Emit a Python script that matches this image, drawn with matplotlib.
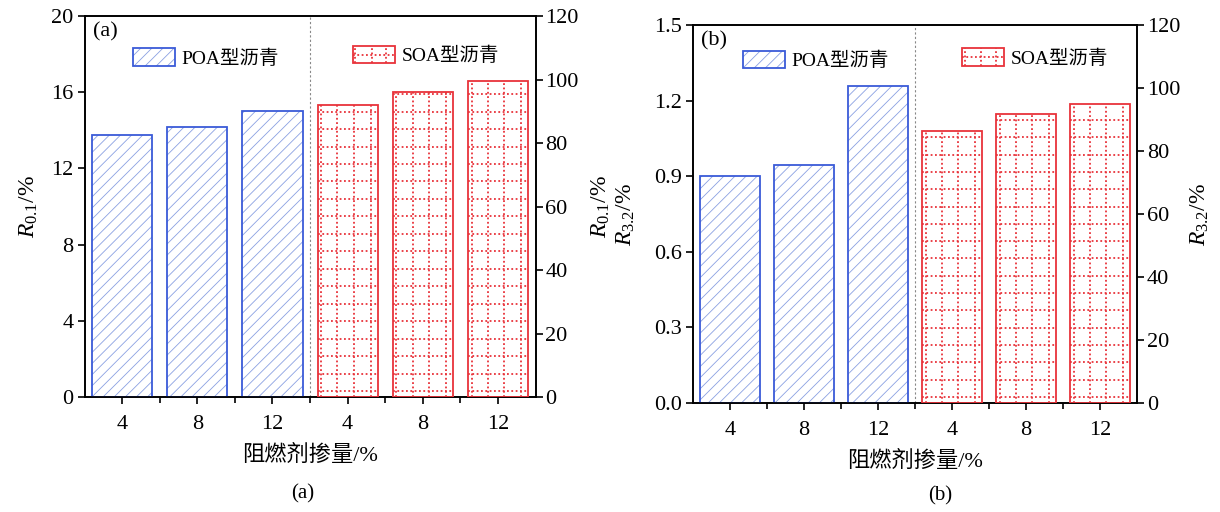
import matplotlib
matplotlib.use('Agg')
import matplotlib.pyplot as plt
from matplotlib.patches import Rectangle
from matplotlib.lines import Line2D
from matplotlib.legend_handler import HandlerBase

plt.rcParams['font.family'] = ['Liberation Serif', 'Noto Sans CJK SC']
plt.rcParams['mathtext.fontset'] = 'custom'
plt.rcParams['mathtext.rm'] = 'Liberation Serif'
plt.rcParams['mathtext.it'] = 'Liberation Serif:italic'
plt.rcParams['hatch.linewidth'] = 0.6
plt.rcParams['axes.linewidth'] = 1.2

# data
doses = ['4', '8', '12', '4', '8', '12']
poa_r01 = [13.73, 14.18, 15.0]
soa_r01 = [92.0, 96.0, 99.6]
poa_r32 = [0.90, 0.945, 1.258]
soa_r32 = [86.5, 91.8, 95.1]

BLUE = '#3a5bd8'
BLUE_HATCH = '#8aa0e2'
RED = '#e8333a'
DOT = (0, (1.0, 1.4))


class HatchKey:
    pass


class GridKey:
    pass


class HatchHandler(HandlerBase):
    def create_artists(self, legend, orig, xd, yd, w, h, fs, trans):
        r1 = Rectangle((-xd, -yd), w, h, facecolor='white', edgecolor=BLUE_HATCH,
                       hatch='///', lw=0, transform=trans)
        r2 = Rectangle((-xd, -yd), w, h, fill=False, edgecolor=BLUE, lw=1.3,
                       transform=trans)
        return [r1, r2]


class GridHandler(HandlerBase):
    def create_artists(self, legend, orig, xd, yd, w, h, fs, trans):
        x0, y0 = -xd, -yd
        arts = [Rectangle((x0, y0), w, h, facecolor='white', edgecolor=RED, lw=1.3,
                          transform=trans)]
        for f in (0.06, 0.45, 0.8):
            arts.append(Line2D([x0 + f * w] * 2, [y0, y0 + h], ls=DOT, color=RED,
                               lw=1.3, transform=trans))
        arts.append(Line2D([x0, x0 + w], [y0 + 0.5 * h] * 2, ls=DOT, color=RED,
                           lw=1.3, transform=trans))
        return arts


def dotted_grid(ax, bar, step=5.5, offset=1.9):
    x0, w, h = bar.get_x(), bar.get_width(), bar.get_height()
    for f in (0.06, 0.33, 0.6, 0.89):
        ln, = ax.plot([x0 + f * w] * 2, [0, h], ls=DOT, color=RED, lw=1.3, zorder=2)
        ln.set_clip_path(bar)
    y = offset
    while y < h:
        ln, = ax.plot([x0, x0 + w], [y, y], ls=DOT, color=RED, lw=1.3, zorder=2)
        ln.set_clip_path(bar)
        y += step


def panel(rect, poa, soa, ltop, lticks, lfmt, llabel, rlabel, tag, lcoords, rcoords,
          xlab_y, legpos):
    ax = fig.add_axes(rect)
    ax2 = ax.twinx()
    xp = [0, 1, 2]
    xs = [3, 4, 5]

    ax.bar(xp, poa, 0.8, facecolor='white', edgecolor=BLUE_HATCH, hatch='///', lw=0,
           zorder=2)
    ax.bar(xp, poa, 0.8, fill=False, edgecolor=BLUE, lw=1.3, zorder=3)
    bars = ax2.bar(xs, soa, 0.8, fill=False, edgecolor=RED, lw=1.3, zorder=3)
    for b in bars:
        dotted_grid(ax2, b)

    ax.axvline(2.5, color='#888888', lw=0.8, ls=(0, (2, 2)), zorder=1)

    ax.set_xlim(-0.5, 5.5)
    ax.set_ylim(0, ltop)
    ax2.set_ylim(0, 120)
    ax.set_xticks(range(6))
    ax.set_xticklabels(doses)
    ax.set_xticks([0.5, 1.5, 2.5, 3.5, 4.5], minor=True)
    ax.set_yticks(lticks)
    ax.set_yticklabels([lfmt.format(v) for v in lticks])
    ax2.set_yticks([0, 20, 40, 60, 80, 100, 120])

    ax.tick_params(axis='x', which='major', direction='out', length=5, width=1.2,
                   labelsize=16, pad=8)
    ax.tick_params(axis='x', which='minor', direction='out', length=4, width=1.2)
    ax.tick_params(axis='y', direction='out', length=5, width=1.2, labelsize=16, pad=3)
    ax2.tick_params(axis='y', direction='out', length=5, width=1.2, labelsize=16, pad=2)

    ax.set_xlabel('阻燃剂掺量/%', fontsize=16)
    ax.xaxis.set_label_coords(0.5, xlab_y)
    ax.set_ylabel(llabel, fontsize=17)
    ax.yaxis.set_label_coords(*lcoords)
    ax2.set_ylabel(rlabel, fontsize=17)
    ax2.yaxis.set_label_coords(*rcoords)

    ax.text(0.019, 0.985, tag, transform=ax.transAxes, ha='left', va='top', fontsize=16)

    lg1 = ax2.legend([HatchKey()], ['POA型沥青'], handler_map={HatchKey: HatchHandler()},
                     loc='center left', bbox_to_anchor=legpos[0], frameon=False,
                     fontsize=14, borderpad=0, borderaxespad=0, handlelength=2.15,
                     handleheight=1.0, handletextpad=0.35)
    ax2.add_artist(lg1)
    ax2.legend([GridKey()], ['SOA型沥青'], handler_map={GridKey: GridHandler()},
               loc='center left', bbox_to_anchor=legpos[1], frameon=False,
               fontsize=14, borderpad=0, borderaxespad=0, handlelength=2.15,
               handleheight=1.0, handletextpad=0.35)
    return ax, ax2


fig = plt.figure(figsize=(12.2, 5.12), dpi=100)

panel([0.0693, 0.2246, 0.3697, 0.744], poa_r01, soa_r01, 20, [0, 4, 8, 12, 16, 20],
      '{:g}', r'$R_{0.1}$/%', r'$R_{0.1}$/%', '(a)', (-0.099, 0.5), (1.121, 0.5),
      -0.126, [(0.107, 0.89), (0.595, 0.896)])
panel([0.568, 0.2129, 0.364, 0.738], poa_r32, soa_r32, 1.5,
      [0, 0.3, 0.6, 0.9, 1.2, 1.5], '{:.1f}', r'$R_{3.2}$/%', r'$R_{3.2}$/%', '(b)',
      (-0.126, 0.5), (1.117, 0.5), -0.127, [(0.113, 0.906), (0.606, 0.913)])

fig.text(0.248, 0.035, '(a)', ha='center', va='center', fontsize=15)
fig.text(0.771, 0.031, '(b)', ha='center', va='center', fontsize=15)

fig.savefig('out.png', dpi=100)
